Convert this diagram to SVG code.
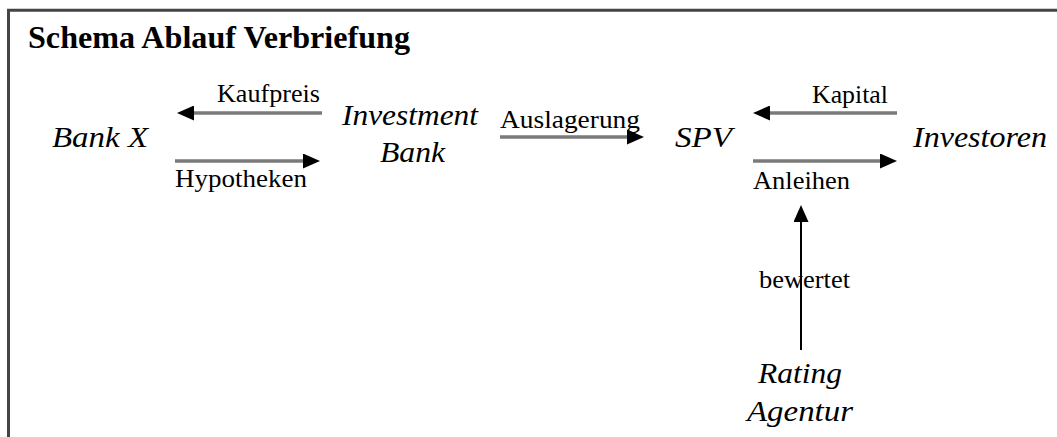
<svg xmlns="http://www.w3.org/2000/svg" width="1057" height="437" viewBox="0 0 1057 437">
<defs>
<marker id="ah" viewBox="0 0 17 15" refX="7" refY="7.5" markerWidth="17" markerHeight="15" markerUnits="userSpaceOnUse" orient="auto">
<path d="M0,0 L17,7.5 L0,15 Z" fill="#000"/>
</marker>
</defs>
<style>
.t{font-family:"Liberation Serif","Times New Roman",serif;fill:#000}
.title{font-size:31px;font-weight:bold}
.node{font-size:30px;font-style:italic}
.lbl{font-size:25px}
.h{stroke:#7a7a7a;stroke-width:3.5;fill:none;marker-end:url(#ah)}
.v{stroke:#000;stroke-width:2;fill:none;marker-end:url(#ah)}
</style>
<rect width="1057" height="437" fill="#fff"/>
<path d="M8.5,437 V10.3 H1057" fill="none" stroke="#444" stroke-width="3"/>
<text class="t title" x="28" y="48" textLength="382" lengthAdjust="spacingAndGlyphs">Schema Ablauf Verbriefung</text>
<g id="bankx"><text class="t node" x="52" y="147" textLength="96" lengthAdjust="spacingAndGlyphs">Bank X</text></g>
<g id="investmentbank">
<text class="t node" x="342" y="125" textLength="136" lengthAdjust="spacingAndGlyphs">Investment</text>
<text class="t node" x="380" y="162" textLength="65" lengthAdjust="spacingAndGlyphs">Bank</text>
</g>
<g id="spv"><text class="t node" x="675" y="147" textLength="57" lengthAdjust="spacingAndGlyphs">SPV</text></g>
<g id="investoren"><text class="t node" x="913" y="147" textLength="134" lengthAdjust="spacingAndGlyphs">Investoren</text></g>
<g id="ratingagentur">
<text class="t node" x="758" y="383" textLength="84" lengthAdjust="spacingAndGlyphs">Rating</text>
<text class="t node" x="747" y="421" textLength="106" lengthAdjust="spacingAndGlyphs">Agentur</text>
</g>
<g id="labels">
<text class="t lbl" x="217" y="102" textLength="103" lengthAdjust="spacingAndGlyphs">Kaufpreis</text>
<text class="t lbl" x="175" y="187" textLength="132" lengthAdjust="spacingAndGlyphs">Hypotheken</text>
<text class="t lbl" x="500" y="128" textLength="140" lengthAdjust="spacingAndGlyphs">Auslagerung</text>
<text class="t lbl" x="812" y="103" textLength="76" lengthAdjust="spacingAndGlyphs">Kapital</text>
<text class="t lbl" x="753" y="189" textLength="97" lengthAdjust="spacingAndGlyphs">Anleihen</text>
<text class="t lbl" x="759" y="288" textLength="91" lengthAdjust="spacingAndGlyphs">bewertet</text>
</g>
<g id="connectors">
<line class="h" x1="322" y1="113" x2="187" y2="113"/>
<line class="h" x1="175" y1="161" x2="310" y2="161"/>
<line class="h" x1="500" y1="137" x2="634" y2="137"/>
<line class="h" x1="897" y1="113" x2="763" y2="113"/>
<line class="h" x1="753" y1="161" x2="887" y2="161"/>
<line class="v" x1="801" y1="350" x2="801" y2="215"/>
</g>
</svg>
